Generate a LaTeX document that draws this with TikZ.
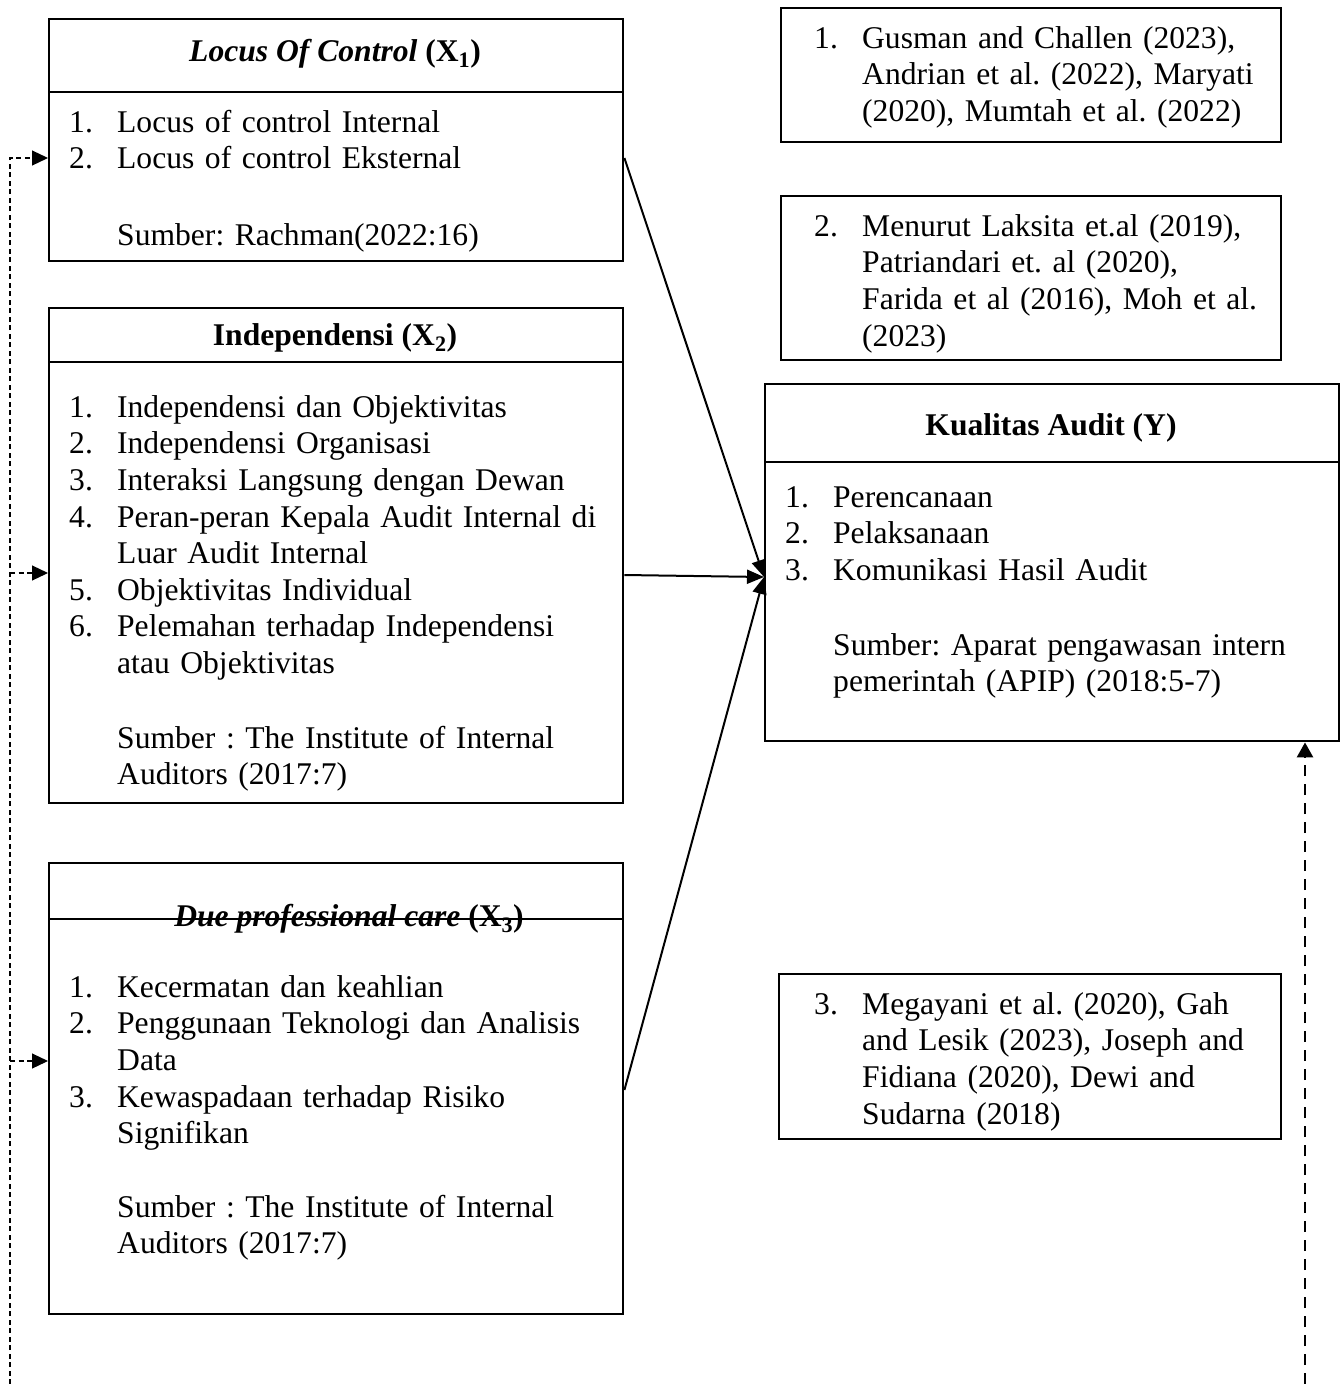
\documentclass[tikz,border=0pt]{standalone}
\usepackage{fontspec}
\setmainfont{Liberation Serif}
\usetikzlibrary{arrows.meta,calc}
\newcommand{\nr}[1]{\leavevmode\llap{\makebox[48pt][l]{#1}}}
\frenchspacing

\begin{document}
\begin{tikzpicture}[x=1pt,y=-1pt,font=\fontsize{31.6}{36.6}\selectfont,
      box/.style={draw,line width=2.4pt,anchor=north west,inner sep=0pt},
      body/.style={anchor=north west,inner sep=0pt,align=left,text width=#1},
      ttl/.style={font=\fontsize{31.6}{36.6}\selectfont\bfseries,inner sep=0pt,anchor=base},
      hd/.style={line width=1.4pt},
      a/.style={-{Triangle[length=17pt,width=14pt]},line width=2pt},
      dl/.style={-{Triangle[length=16pt,width=15pt]},line width=1.2pt,dash pattern=on 5pt off 3.5pt},
      dr/.style={-{Triangle[length=15pt,width=16pt]},line width=2.6pt,dash pattern=on 11pt off 8pt}]
      \useasboundingbox (0,0) rectangle (1340,1384);
      % variable boxes
      \node[box,minimum width=574pt,minimum height=242pt] (lc) at (48,18) {};
      \node[box,minimum width=574pt,minimum height=495pt] (ind) at (48,307) {};
      \node[box,minimum width=574pt,minimum height=451pt] (dpc) at (48,862) {};
      \node[box,minimum width=574pt,minimum height=357pt] (ka) at (764,383) {};
      % reference boxes
      \node[box,minimum width=500pt,minimum height=134pt] (r1) at (780,7) {};
      \node[box,minimum width=500pt,minimum height=164pt] (r2) at (780,195) {};
      \node[box,minimum width=502pt,minimum height=165pt] (r3) at (778,973) {};
      % titles
      \node[ttl] (lct) at (335,61) {\textit{Locus Of Control} (X\textsubscript{1})};
      \node[ttl] (indt) at (335,345) {Independensi (X\textsubscript{2})};
      \node[ttl] (dpct) at (349,926) {\textit{Due professional care} (X\textsubscript{3})};
      \node[ttl] (kat) at (1051,435) {Kualitas Audit (Y)};
      \draw[hd] ($(lc.north west)+(0,74)$) -- ($(lc.north east)+(0,74)$);
      \draw[hd] ($(ind.north west)+(0,55)$) -- ($(ind.north east)+(0,55)$);
      \draw[hd] ($(dpc.north west)+(0,57)$) -- ($(dpc.north east)+(0,57)$);
      \draw[hd] ($(ka.north west)+(0,79)$) -- ($(ka.north east)+(0,79)$);
      % box texts
      \node[body=500pt] (lcb) at (117,106.4) {\strut\nr{1.}Locus of control Internal\\
        \nr{2.}Locus of control Eksternal\\[40pt]
        Sumber: Rachman(2022:16)};
      \node[body=520pt] (indb) at (117,391.4) {\strut\nr{1.}Independensi dan Objektivitas\\
        \nr{2.}Independensi Organisasi\\
        \nr{3.}Interaksi Langsung dengan Dewan\\
        \nr{4.}Peran-peran Kepala Audit Internal di\\
        Luar Audit Internal\\
        \nr{5.}Objektivitas Individual\\
        \nr{6.}Pelemahan terhadap Independensi\\
        atau Objektivitas\\[38pt]
        Sumber : The Institute of Internal\\
        Auditors (2017:7)};
      \node[body=520pt] (dpcb) at (117,971.4) {\strut\nr{1.}Kecermatan dan keahlian\\
        \nr{2.}Penggunaan Teknologi dan Analisis\\
        Data\\
        \nr{3.}Kewaspadaan terhadap Risiko\\
        Signifikan\\[37pt]
        Sumber : The Institute of Internal\\
        Auditors (2017:7)};
      \node[body=500pt] (kab) at (833,481.4) {\strut\nr{1.}Perencanaan\\
        \nr{2.}Pelaksanaan\\
        \nr{3.}Komunikasi Hasil Audit\\[38pt]
        Sumber: Aparat pengawasan intern\\
        pemerintah (APIP) (2018:5-7)};
      \node[body=460pt] (r1b) at (862,22.4) {\strut\nr{1.}Gusman and Challen (2023),\\
        Andrian et al. (2022), Maryati\\
        (2020), Mumtah et al. (2022)};
      \node[body=460pt] (r2b) at (862,210.4) {\strut\nr{2.}Menurut Laksita et.al (2019),\\
        Patriandari et. al (2020),\\
        Farida et al (2016), Moh et al.\\
        (2023)};
      \node[body=460pt] (r3b) at (862,988.4) {\strut\nr{3.}Megayani et al. (2020), Gah\\
        and Lesik (2023), Joseph and\\
        Fidiana (2020), Dewi and\\
        Sudarna (2018)};
      % connectors
      \coordinate (lco) at ($(lc.north east)+(0,140)$);
      \coordinate (indo) at ($(ind.north east)+(0,268)$);
      \coordinate (dpco) at ($(dpc.north east)+(0,228)$);
      \coordinate (kai) at ($(ka.north west)+(0,194)$);
      \draw[a] (lco) -- (kai);
      \draw[a] (indo) -- (kai);
      \draw[a] (dpco) -- (kai);
      \coordinate (lci) at ($(lc.north west)+(0,140)$);
      \coordinate (indi) at ($(ind.north west)+(0,266)$);
      \coordinate (dpci) at ($(dpc.north west)+(0,199)$);
      \coordinate (lbot) at (10,1384);
      \coordinate (rbot) at (1305,1384);
      \draw[dl] (lbot) |- (lci);
      \draw[dl] (lbot |- indi) -- (indi);
      \draw[dl] (lbot |- dpci) -- (dpci);
      \draw[dr] (rbot) -- (ka.south -| rbot);
    \end{tikzpicture}
\end{document}
